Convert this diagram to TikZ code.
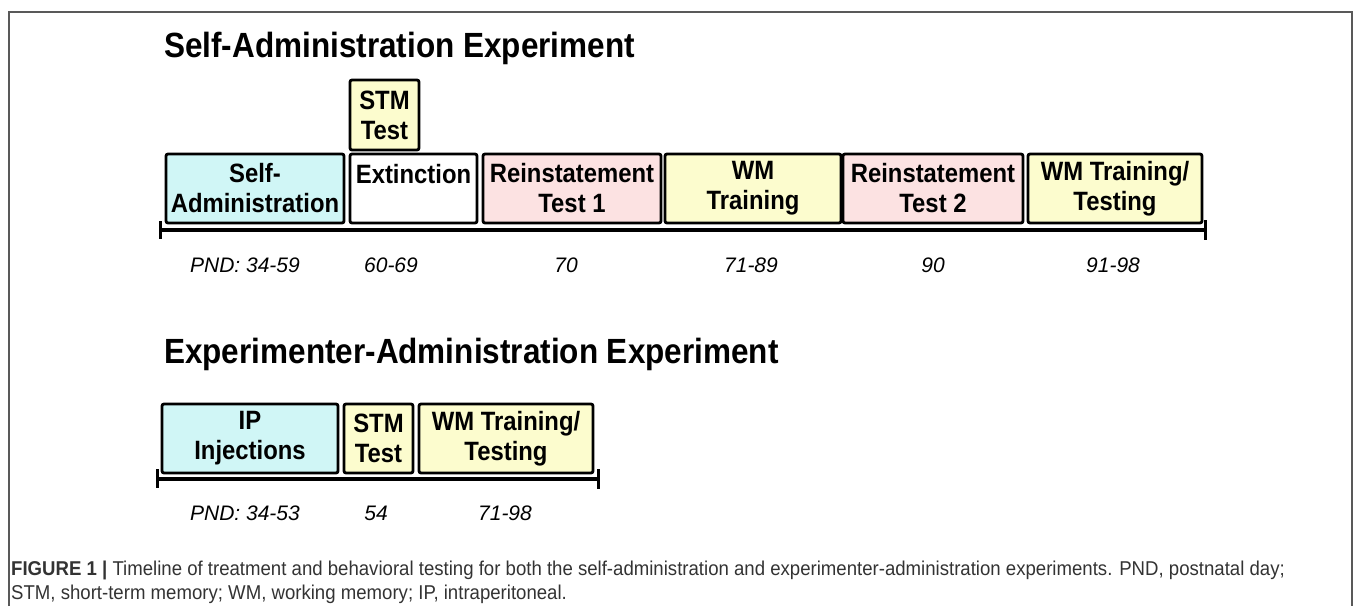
\documentclass[tikz,border=0pt]{standalone}
\usepackage{fontspec}
\setmainfont{Liberation Sans}
\newfontfamily\narrowsans[FakeStretch=0.9]{Liberation Sans}
\newfontfamily\capsans[FakeStretch=0.93]{Liberation Sans}
\definecolor{sacyan}{RGB}{208,246,246}
\definecolor{rired}{RGB}{252,226,226}
\definecolor{wmyellow}{RGB}{252,252,206}
% one phase box: name, fill, left, right, top, bottom, text
\newcommand{\phasebox}[7]{\node[box,fill=#2,minimum width=#4pt-#3pt,minimum height=#6pt-#5pt]
  (#1) at ({(#3+#4)/2},{(#5+#6)/2}) {#7};}

\begin{document}
\begin{tikzpicture}[x=1pt,y=-1pt,
   box/.style={draw,line width=2.8pt,rounded corners=2pt,align=center,inner sep=0pt,
     font=\narrowsans\fontsize{26.5}{30}\selectfont\bfseries},
   day/.style={font=\fontsize{21}{25}\selectfont\itshape},
   head/.style={anchor=base west,inner sep=0pt,font=\narrowsans\fontsize{35}{40}\selectfont\bfseries},
   captext/.style={anchor=base west,inner sep=0pt,text=black!80,font=\capsans\fontsize{20}{24}\selectfont},
   axisline/.style={line width=3.2pt},
   tick/.style={line width=3pt}]
\useasboundingbox (0,0) rectangle (1355,606);
\draw[gray!70!black,line width=1.2pt] (9,606) -- (9,12) -- (1352,12) -- (1352,606);

% self-administration timeline
\node[head] (head1) at (164,57) {Self-Administration Experiment};
\phasebox{sa}{sacyan}{166}{344}{154}{223}{Self-\\Administration}
\phasebox{ext}{white}{350}{477}{154}{223}{Extinction\\\mbox{}}
\phasebox{stm}{wmyellow}{350}{419}{80}{150}{STM\\Test}
\phasebox{ri1}{rired}{483}{661}{154}{223}{Reinstatement\\Test 1}
\phasebox{wm}{wmyellow}{665}{841}{154}{223}{WM\\Training}
\phasebox{ri2}{rired}{843}{1023}{154}{223}{Reinstatement\\Test 2}
\phasebox{wmt}{wmyellow}{1028}{1202}{154}{223}{WM Training/\\Testing}
\coordinate (ax1l) at (160,230);
\coordinate (ax1r) at (1205,230);
\draw[axisline] (ax1l) -- (ax1r);
\draw[tick] (ax1l) ++(0,-9) -- ++(0,18);
\draw[tick] (ax1r) ++(0,-10) -- ++(0,20);
\foreach \d/\x [count=\i] in {PND: 34-59/245,60-69/391,70/566,71-89/751,90/933,91-98/1113}
  \node[day] (day\i) at (\x,265) {\d};

% experimenter-administration timeline
\node[head] (head2) at (164,363) {Experimenter-Administration Experiment};
\phasebox{ip}{sacyan}{162}{338}{404}{473}{IP\\Injections}
\phasebox{stmb}{wmyellow}{344}{413}{404}{473}{STM\\Test}
\phasebox{wmb}{wmyellow}{419}{593}{404}{473}{WM Training/\\Testing}
\coordinate (ax2l) at (157,479);
\coordinate (ax2r) at (598,479);
\draw[axisline] (ax2l) -- (ax2r);
\draw[tick] (ax2l) ++(0,-10) -- ++(0,19);
\draw[tick] (ax2r) ++(0,-10) -- ++(0,20);
\foreach \d/\x [count=\i] in {PND: 34-53/245,54/376,71-98/505}
  \node[day] (dayb\i) at (\x,513) {\d};

\node[captext] (cap1) at (11,575) {\textbf{FIGURE 1 |} Timeline of treatment and behavioral testing for both the self-administration and experimenter-administration experiments. PND, postnatal day;};
\node[captext] (cap2) at (11,599) {STM, short-term memory; WM, working memory; IP, intraperitoneal.};
\end{tikzpicture}
\end{document}
